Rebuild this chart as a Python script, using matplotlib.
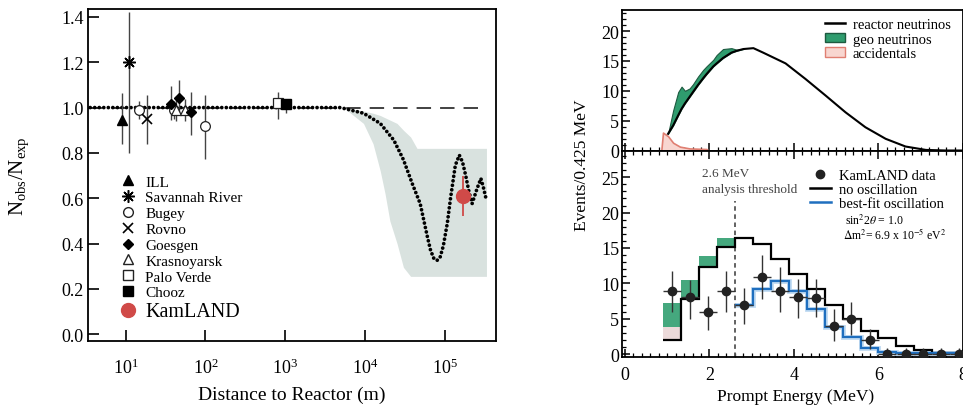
import numpy as np
import matplotlib.pyplot as plt
from matplotlib.lines import Line2D
from matplotlib.patches import Patch
from matplotlib.ticker import MultipleLocator, NullLocator, FixedLocator

plt.rcParams['font.family'] = ['Liberation Serif', 'DejaVu Serif']
plt.rcParams['mathtext.fontset'] = 'stix'

# === LEFT PANEL DATA: reactor experiments, ratio vs distance ===
ill_L = [9.1]
ill_r = [0.945]
ill_err = [[0.105], [0.12]]

sav_L = [11.0]
sav_r = [1.20]
sav_err = [[0.40], [0.22]]

bugey_L = [14.8, 40.0, 98.0]
bugey_r = [0.99, 0.99, 0.92]
bugey_err = [[0.04, 0.04, 0.145], [0.04, 0.04, 0.135]]

rovno_L = [18.6]
rovno_r = [0.95]
rovno_err = [[0.11], [0.105]]

goesgen_L = [37.0, 47.0, 66.0]
goesgen_r = [1.015, 1.044, 0.98]
goesgen_err = [[0.07, 0.077, 0.10], [0.078, 0.076, 0.09]]

kras_L = [43.0, 55.0]
kras_r = [0.99, 0.99]
kras_err = [[0.05, 0.05], [0.05, 0.05]]

palo_L = [810.0]
palo_r = [1.02]
palo_err = [[0.07], [0.05]]

chooz_L = [1035.0]
chooz_r = [1.015]
chooz_err = [[0.04], [0.025]]

kam_L = [1.7e5]
kam_r = [0.61]
kam_err = [0.09]

# oscillation prediction (log10 of distance in m)
curve_logL = [0.50, 3.69, 3.98, 4.19, 4.36, 4.48, 4.59, 4.69, 4.78, 4.82, 4.86, 4.90,
              4.94, 4.98, 5.03, 5.07, 5.13, 5.18, 5.22, 5.26, 5.30, 5.34, 5.40, 5.45,
              5.48, 5.52]
curve_ratio = [1.0, 1.0, 0.975, 0.93, 0.856, 0.77, 0.665, 0.576, 0.43, 0.37, 0.335, 0.325,
               0.34, 0.39, 0.49, 0.60, 0.745, 0.79, 0.76, 0.70, 0.63, 0.576, 0.64, 0.687,
               0.65, 0.59]

# allowed band around the prediction
band_logL = [3.73, 3.98, 4.10, 4.19, 4.25, 4.31, 4.40, 4.48, 4.57, 4.65, 5.52]
band_lo = [1.0, 0.93, 0.84, 0.72, 0.62, 0.50, 0.40, 0.295, 0.255, 0.255, 0.255]
band_hi = [1.0, 0.985, 0.975, 0.965, 0.955, 0.945, 0.93, 0.90, 0.87, 0.82, 0.82]

# === RIGHT TOP PANEL: expected spectra ===
top_e = [1.02, 1.14, 1.26, 1.34, 1.42, 1.53, 1.61, 1.73, 1.85, 1.93, 2.09, 2.17, 2.32,
         2.52, 2.64, 2.80, 3.04, 3.27, 3.80, 4.27, 4.75, 5.22, 5.69, 6.17, 6.64, 7.12,
         7.60, 8.0]
reactor = [2.8, 4.2, 5.9, 7.0, 7.9, 9.0, 9.8, 11.0, 12.1, 12.8, 14.1, 14.6, 15.5,
           16.4, 16.7, 17.0, 17.15, 16.4, 14.6, 12.0, 9.2, 6.4, 3.9, 1.96, 0.67, 0.1,
           0.0, 0.0]
geo_top = [2.8, 6.7, 9.8, 10.7, 10.0, 10.4, 11.1, 12.4, 13.5, 14.1, 15.2, 16.0, 17.0,
           17.15, 16.9, 17.0]

acc_e = [0.86, 0.90, 1.02, 1.14, 1.30, 1.53, 1.93, 1.97]
acc_top = [0.0, 3.0, 2.4, 1.3, 0.65, 0.35, 0.25, 0.0]

# === RIGHT BOTTOM PANEL: KamLAND spectrum, 0.425 MeV bins ===
bin_edges = [0.9, 1.325, 1.75, 2.175, 2.6, 3.025, 3.45, 3.875, 4.3, 4.725, 5.15, 5.575,
             6.0, 6.425, 6.85, 7.275, 7.7, 8.125]
no_osc = [1.98, 7.8, 12.3, 15.1, 16.4, 15.6, 13.4, 11.3, 9.2, 6.9, 4.9, 3.3, 2.2, 1.2,
          0.5, 0.2, 0.1]
acc_bins = [1.8, 0, 0, 0, 0, 0, 0, 0, 0, 0, 0, 0, 0, 0, 0, 0, 0]
geo_bins = [3.4, 2.7, 1.5, 1.3, 0, 0, 0, 0, 0, 0, 0, 0, 0, 0, 0, 0, 0]
best_fit = [6.9, 9.2, 10.3, 8.95, 6.4, 3.8, 2.4, 0.8, 0.3, 0.1, 0.1, 0.1, 0.1]  # from 2.6 MeV

data_e = [1.11, 1.54, 1.96, 2.39, 2.81, 3.24, 3.66, 4.09, 4.51, 4.94, 5.36, 5.79, 6.21,
          6.64, 7.06, 7.49, 7.91]
data_n = [8.95, 8.0, 5.9, 8.95, 6.9, 10.9, 8.95, 8.0, 7.9, 4.0, 4.95, 2.0, 0, 0, 0, 0, 0]
data_lo = [3.05, 3.0, 2.5, 2.95, 2.7, 3.1, 3.0, 2.9, 2.6, 2.1, 2.2, 1.25, 0, 0, 0, 0, 0]
data_hi = [2.85, 2.5, 2.35, 2.85, 2.5, 3.1, 3.4, 2.6, 2.7, 2.4, 2.4, 1.6, 0.9, 0.9, 0.9, 0.9, 0.9]

THRESHOLD = 2.6

# colours
BAND = "#d9e2df"
GREEN = "#2f9c6e"
GREEN2 = "#45a87e"
PINK = "#f8d6d0"
PINK_EDGE = "#e07f72"
BLUE = "#1f6fbf"
RED = "#d04a48"

fig = plt.figure(figsize=(9.63, 4.10), dpi=100)

# ---------------- left panel ----------------
ax1 = fig.add_axes([0.0914, 0.166, 0.4237, 0.8096])
ax1.set_xscale("log")
ax1.set_xlim(10 ** 0.53, 10 ** 5.64)
ax1.set_ylim(-0.03, 1.435)

ax1.fill_between(10 ** np.array(band_logL), band_lo, band_hi, color=BAND, lw=0, zorder=1)
ax1.plot([10 ** 0.53, 10 ** 5.45], [1.0, 1.0], color="#333333", lw=1.3,
         dashes=(8, 5), zorder=2)
ax1.plot(10 ** np.array(curve_logL), curve_ratio, color="black", lw=2.7,
         linestyle=(0, (0.01, 1.2)), dash_capstyle="round", zorder=3)

ebar = dict(ecolor="#444444", elinewidth=1.0, capsize=0, linestyle="none", zorder=4)
ax1.errorbar(ill_L, ill_r, yerr=ill_err, marker="^", ms=7, color="black", **ebar)
ax1.errorbar(sav_L, sav_r, yerr=sav_err, marker=(8, 2, 0), ms=9, mew=1.1, color="black", **ebar)
ax1.errorbar(bugey_L, bugey_r, yerr=bugey_err, marker="o", ms=7, mfc="white", mec="#222222",
             mew=0.9, **ebar)
ax1.errorbar(rovno_L, rovno_r, yerr=rovno_err, marker="x", ms=7, mew=1.2, color="black", **ebar)
ax1.errorbar(kras_L, kras_r, yerr=kras_err, marker="^", ms=7, mfc="white", mec="#222222",
             mew=0.9, **ebar)
ax1.errorbar(goesgen_L, goesgen_r, yerr=goesgen_err, marker="D", ms=5.5, color="black", **ebar)
ax1.errorbar(palo_L, palo_r, yerr=palo_err, marker="s", ms=7, mfc="white", mec="#222222",
             mew=0.9, **ebar)
ax1.errorbar(chooz_L, chooz_r, yerr=chooz_err, marker="s", ms=7, color="black", **ebar)
ax1.errorbar(kam_L, kam_r, yerr=kam_err, marker="o", ms=10, color=RED, ecolor=RED,
             elinewidth=1.3, capsize=0, linestyle="none", zorder=5)

ax1.xaxis.set_major_locator(FixedLocator([1e1, 1e2, 1e3, 1e4, 1e5]))
ax1.xaxis.set_minor_locator(NullLocator())
ax1.yaxis.set_major_locator(MultipleLocator(0.2))
ax1.yaxis.set_major_formatter(plt.FormatStrFormatter("%.1f"))
ax1.tick_params(direction="in", length=8, width=1.2, labelsize=13)
ax1.tick_params(axis="y", pad=3)
ax1.tick_params(axis="x", pad=12)
for s in ax1.spines.values():
    s.set_linewidth(1.3)

ax1.set_xlabel("Distance to Reactor (m)", fontsize=14)
ax1.xaxis.set_label_coords(0.5, -0.135)
ax1.set_ylabel(r"$\mathregular{N_{obs}/N_{exp}}$", fontsize=15)
ax1.yaxis.set_label_coords(-0.14, 0.5)

handles = [
    Line2D([], [], marker="^", ms=7, color="black", ls="none"),
    Line2D([], [], marker=(8, 2, 0), ms=9, mew=1.1, color="black", ls="none"),
    Line2D([], [], marker="o", ms=7, mfc="white", mec="#222222", ls="none"),
    Line2D([], [], marker="x", ms=7, mew=1.2, color="black", ls="none"),
    Line2D([], [], marker="D", ms=5.5, color="black", ls="none"),
    Line2D([], [], marker="^", ms=7, mfc="white", mec="#222222", ls="none"),
    Line2D([], [], marker="s", ms=7, mfc="white", mec="#222222", ls="none"),
    Line2D([], [], marker="s", ms=7, color="black", ls="none"),
    Line2D([], [], marker="o", ms=10, color=RED, ls="none"),
]
labels = ["ILL", "Savannah River", "Bugey", "Rovno", "Goesgen", "Krasnoyarsk",
          "Palo Verde", "Chooz", "KamLAND"]
leg1 = ax1.legend(handles, labels, loc="upper left", bbox_to_anchor=(0.08, 0.5),
                  frameon=False, fontsize=11, handlelength=1.0, handletextpad=0.6,
                  labelspacing=0.14, borderpad=0, borderaxespad=0)
leg1.get_texts()[-1].set_fontsize(14.5)

# ---------------- right panels ----------------
ax_t = fig.add_axes([0.6459, 0.629, 0.3541, 0.345])
ax_b = fig.add_axes([0.6459, 0.126, 0.3541, 0.503], sharex=ax_t)

ax_t.fill_between(top_e[:len(geo_top)], reactor[:len(geo_top)], geo_top,
                  facecolor=GREEN, edgecolor="#1d5a40", lw=0.8, zorder=2)
ax_t.fill_between(acc_e, 0, acc_top, facecolor=PINK, edgecolor=PINK_EDGE, lw=1.2, zorder=2)
ax_t.plot(top_e, reactor, color="black", lw=1.5, zorder=3)
ax_t.set_ylim(-0.1, 23.6)
ax_t.yaxis.set_major_locator(MultipleLocator(5))
ax_t.yaxis.set_minor_locator(MultipleLocator(1))

leg_t = ax_t.legend(
    [Line2D([], [], color="black", lw=1.8),
     Patch(facecolor=GREEN, edgecolor="#1d5a40"),
     Patch(facecolor=PINK, edgecolor=PINK_EDGE)],
    ["reactor neutrinos", "geo neutrinos", "accidentals"],
    loc="upper left", bbox_to_anchor=(0.595, 0.94), frameon=False, fontsize=10.5,
    handlelength=1.4, handleheight=0.6, handletextpad=0.5, labelspacing=0.1,
    borderpad=0, borderaxespad=0)

# bottom histogram
edges = np.array(bin_edges)
base = np.array(no_osc)
acc_b = np.array(acc_bins)
geo_b = np.array(geo_bins)
ax_b.bar(edges[:-1], acc_b, width=np.diff(edges), bottom=base, align="edge",
         color="#ecdada", lw=0, zorder=1)
ax_b.bar(edges[:-1], geo_b, width=np.diff(edges), bottom=base + acc_b, align="edge",
         color=GREEN2, lw=0, zorder=1)
ax_b.stairs(no_osc, edges, color="black", lw=1.6, baseline=None, zorder=3)
bf_edges = edges[edges >= THRESHOLD - 1e-9][:len(best_fit) + 1]
ax_b.stairs(best_fit, bf_edges, color="#c2dcf3", lw=3.5, baseline=None, zorder=2)
ax_b.stairs(best_fit, bf_edges, color=BLUE, lw=1.6, baseline=None, zorder=3)
ax_b.axvline(THRESHOLD, ymin=0, ymax=(21.7 + 0.47) / (28.7 + 0.47), color="#555555",
             lw=1.3, dashes=(2.5, 2), zorder=2)
ax_b.errorbar(data_e, data_n, xerr=0.2125, yerr=[data_lo, data_hi], fmt="o", ms=6,
              color="#222222", ecolor="#333333", elinewidth=1.0, capsize=0, zorder=4)
ax_b.set_ylim(-0.47, 28.7)
ax_b.set_xlim(-0.07, 8.0)
ax_b.yaxis.set_major_locator(MultipleLocator(5))
ax_b.yaxis.set_minor_locator(MultipleLocator(1))
ax_b.xaxis.set_major_locator(MultipleLocator(2))
ax_b.xaxis.set_minor_locator(MultipleLocator(0.2))

ax_b.text(1.83, 25.6, "2.6 MeV", fontsize=9.5, color="#444444", va="center")
ax_b.text(1.83, 23.4, "analysis threshold", fontsize=9.5, color="#444444", va="center")

leg_b = ax_b.legend(
    [Line2D([], [], marker="o", ms=6, color="#222222", ls="none"),
     Line2D([], [], color="black", lw=1.8),
     Line2D([], [], color=BLUE, lw=1.8)],
    ["KamLAND data", "no oscillation", "best-fit oscillation"],
    loc="upper left", bbox_to_anchor=(0.55, 0.915), frameon=False, fontsize=10.5,
    handlelength=1.5, handletextpad=0.5, labelspacing=0.05, borderpad=0, borderaxespad=0)
ax_b.text(5.21, 19.0, r"sin$^2$2$\theta$ = 1.0", fontsize=8.5, va="center")
ax_b.text(5.17, 17.0, r"$\Delta$m$^2$= 6.9 x 10$^{-5}$ eV$^2$", fontsize=8.5, va="center")

for ax in (ax_t, ax_b):
    ax.tick_params(which="major", direction="in", length=6, width=1.1, labelsize=13, pad=2)
    ax.tick_params(which="minor", direction="in", length=3, width=0.9)
    for s in ax.spines.values():
        s.set_linewidth(1.3)
ax_t.tick_params(axis="x", which="both", labelbottom=False, bottom=True, top=False)
ax_b.tick_params(axis="x", which="both", top=True, pad=6)

ax_b.set_xlabel("Prompt Energy (MeV)", fontsize=12.5)
ax_b.xaxis.set_label_coords(0.509, -0.15)
fig.text(582 / 963, 1 - 165 / 410, "Events/0.425 MeV", rotation=90, ha="center",
         va="center", fontsize=12.5)

fig.savefig("out.png", dpi=100)
